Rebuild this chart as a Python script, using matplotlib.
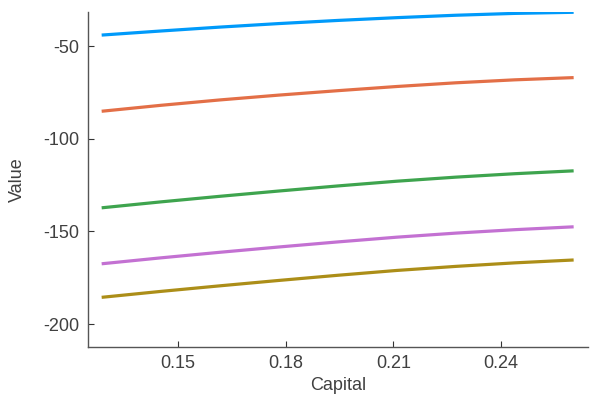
import matplotlib
matplotlib.use("Agg")
import matplotlib.pyplot as plt

plt.rcParams['font.family'] = ['Liberation Sans', 'DejaVu Sans']

capital = [0.1287, 0.1452, 0.1616, 0.1780, 0.1945, 0.2109, 0.2274, 0.2438, 0.2602]

value_1 = [-44.1, -41.9, -39.8, -37.9, -36.2, -34.7, -33.4, -32.4, -31.8]
value_2 = [-85.2, -82.0, -79.1, -76.5, -74.1, -71.85, -69.85, -68.25, -67.05]
value_3 = [-137.3, -134.1, -131.1, -128.25, -125.5, -122.95, -120.75, -118.9, -117.35]
value_4 = [-167.5, -164.3, -161.3, -158.45, -155.7, -153.15, -150.95, -149.1, -147.55]
value_5 = [-185.6, -182.4, -179.4, -176.5, -173.7, -171.1, -168.9, -167.0, -165.45]

series = [value_1, value_2, value_3, value_4, value_5]
colors = ['#009AFA', '#E36F47', '#3EA44E', '#C371D2', '#AC8E18']

xticks = [0.15, 0.18, 0.21, 0.24]
xtick_labels = ['0.15', '0.18', '0.21', '0.24']
yticks = [-200, -150, -100, -50]
ytick_labels = ['-200', '-150', '-100', '-50']

fig = plt.figure(figsize=(6, 4), dpi=100)
ax = fig.add_axes([0.1467, 0.1325, 0.8333, 0.8375])

for vals, c in zip(series, colors):
    ax.plot(capital, vals, color=c, linewidth=2.3, solid_capstyle='butt')

ax.set_xlim(0.1249, 0.2642)
ax.set_ylim(-212.4, -31.65)
ax.set_xticks(xticks)
ax.set_xticklabels(xtick_labels)
ax.set_yticks(yticks)
ax.set_yticklabels(ytick_labels)

for side in ['top', 'right']:
    ax.spines[side].set_visible(False)
for side in ['left', 'bottom']:
    ax.spines[side].set_color('#555555')
    ax.spines[side].set_linewidth(1.0)

ax.tick_params(direction='in', length=4, width=0.8, color='#333333',
               labelsize=13, labelcolor='#404040', pad=6)
ax.set_xlabel('Capital', fontsize=13, color='#404040')
ax.set_ylabel('Value', fontsize=13, color='#404040')
ax.xaxis.set_label_coords(0.5, -0.116)
ax.yaxis.set_label_coords(-0.142, 0.5)
ax.xaxis.label.set_va('center')
ax.yaxis.label.set_va('center')

fig.savefig('out.png', dpi=100)
